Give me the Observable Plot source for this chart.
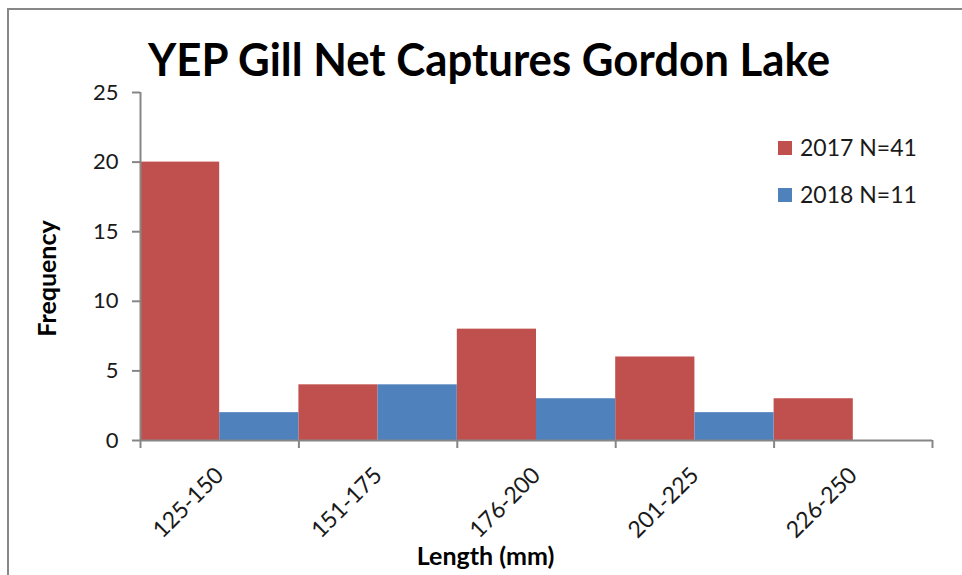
<!DOCTYPE html>
<html>
<head>
<meta charset="utf-8">
<script src="https://cdn.jsdelivr.net/npm/d3@7"></script>
<script src="https://cdn.jsdelivr.net/npm/@observablehq/plot@0.6"></script>
<style>
  html, body { margin: 0; padding: 0; background: #fff; }
  #wrap { position: relative; width: 962px; height: 575px; overflow: hidden; font-family: Lato, "Open Sans", sans-serif; }
  #frame { position: absolute; left: 7px; top: 8px; width: 1000px; height: 600px; border-left: 2px solid #878787; border-top: 2px solid #878787; }
  #title { position: absolute; left: 0; top: 36px; white-space: nowrap; font-weight: bold; font-size: 46px; color: #000; transform-origin: 0 0; line-height: 1; }
  .leg { position: absolute; left: 778px; font-size: 23px; color: #1a1a1a; white-space: nowrap; line-height: 1; }
  .leg span.sw { display: inline-block; width: 14px; height: 14px; margin-right: 8px; vertical-align: 1px; }
  #chart { position: absolute; left: 0; top: 0; }
</style>
</head>
<body>
<div id="wrap">
  <div id="frame"></div>
  <div id="chart"></div>
  <div id="title">YEP Gill Net Captures Gordon Lake</div>
  <div class="leg" id="leg0"></div>
  <div class="leg" id="leg1"></div>
</div>
<script>
const categories = ["125-150", "151-175", "176-200", "201-225", "226-250"];
const values2017 = [20, 4, 8, 6, 3];
const values2018 = [2, 4, 3, 2, 0];
const seriesNames = ["2017 N=41", "2018 N=11"];
const seriesColors = ["#C0504D", "#4F81BD"];
const yTicks = [0, 5, 10, 15, 20, 25];
const xTitle = "Length (mm)";
const yTitle = "Frequency";

const rows = categories.map((c, i) => ({cat: c, i, v2017: values2017[i], v2018: values2018[i]}));
const bounds = d3.range(categories.length + 1);
const centers = categories.map((c, i) => i + 0.5);

const axisColor = "#868686";
const textColor = "#1a1a1a";

const plot = Plot.plot({
  width: 962,
  height: 575,
  marginLeft: 140,
  marginRight: 30,
  marginTop: 92,
  marginBottom: 135,
  style: {fontFamily: "Lato, 'Open Sans', sans-serif", fontSize: "22px", color: textColor, background: "transparent"},
  x: {type: "linear", domain: [0, categories.length], axis: null},
  y: {domain: [0, 25], axis: null},
  marks: [
    Plot.rectY(rows, {x1: d => d.i, x2: d => d.i + 0.5, y: "v2017", fill: seriesColors[0]}),
    Plot.rectY(rows, {x1: d => d.i + 0.5, x2: d => d.i + 1, y: "v2018", fill: seriesColors[1]}),
    Plot.ruleY([0], {stroke: axisColor, strokeWidth: 2}),
    Plot.ruleX([0], {stroke: axisColor, strokeWidth: 2}),
    Plot.axisX(bounds, {tickFormat: () => "", tickSize: 8, stroke: axisColor, strokeWidth: 2, label: null}),
    Plot.axisX(centers, {tickFormat: v => categories[Math.floor(v)], tickSize: 0, tickPadding: 31, tickRotate: -45, fill: textColor, fontSize: 23, label: null}),
    Plot.axisY(yTicks, {tickSize: 8, stroke: axisColor, strokeWidth: 2, tickPadding: 14, fill: textColor, fontSize: 22, label: null}),
    Plot.text([yTitle], {frameAnchor: "left", textAnchor: "middle", lineAnchor: "middle", dx: -93, dy: 12, rotate: -90, fontWeight: "bold", fontSize: 25, fill: "#000"}),
    Plot.text([xTitle], {frameAnchor: "bottom", textAnchor: "middle", lineAnchor: "middle", dx: -51, dy: 116, fontWeight: "bold", fontSize: 25, fill: "#000"})
  ]
});
document.getElementById("chart").appendChild(plot);

// legend
[0, 1].forEach(k => {
  const el = document.getElementById("leg" + k);
  el.innerHTML = `<span class="sw" style="background:${seriesColors[k]}"></span>${seriesNames[k]}`;
  el.style.top = (k === 0 ? 136 : 183) + "px";
});

// fit title to reference width
const t = document.getElementById("title");
const w = t.getBoundingClientRect().width;
const target = 682;
t.style.transform = `scaleX(${target / w})`;
t.style.left = "148px";
</script>
</body>
</html>
